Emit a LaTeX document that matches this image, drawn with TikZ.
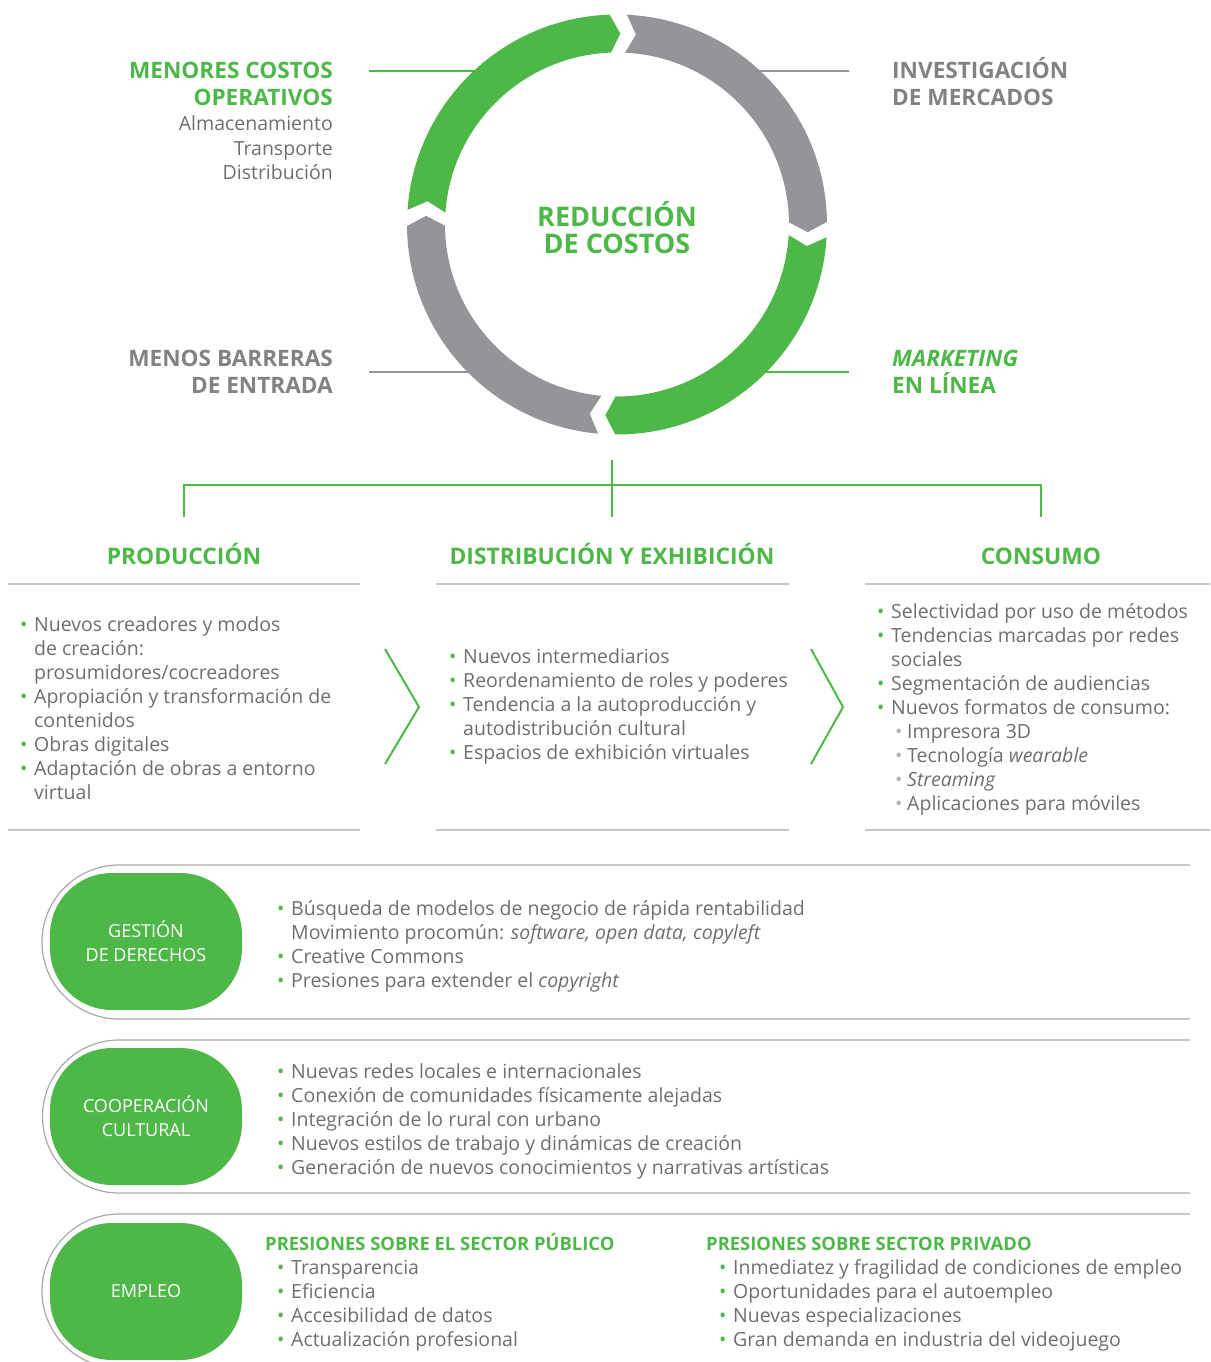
\documentclass[tikz,border=0pt]{standalone}
\usepackage{fontspec}
\setmainfont{Open Sans}
\usetikzlibrary{calc}
\definecolor{grn}{HTML}{4DB848}
\definecolor{segg}{HTML}{939598}
\definecolor{hdg}{HTML}{808285}
\definecolor{txtg}{HTML}{6D6E71}
\definecolor{lineg}{HTML}{C4C6C8}
\definecolor{bandg}{HTML}{A7A9AC}
\definecolor{subg}{HTML}{B0B2B4}
\newcommand\Bul{\makebox[14pt][l]{\textcolor{grn}{•}}}
\newcommand\Ind{\hspace*{14pt}}
\newcommand\Sbul{\makebox[12pt][l]{\textcolor{subg}{•}}}
\newcommand\ringseg[3]{%
  \fill[#3] (#1:210) arc[start angle=#1, end angle=#2, radius=210]
    -- ({#2-3}:191) -- (#2:172) arc[start angle=#2, end angle=#1, radius=172]
    -- ({#1-3}:191) -- cycle;}
\tikzset{
  body/.style={anchor=base west, inner sep=0pt, text=txtg, font=\fontsize{19.5}{24}\selectfont},
  hd/.style={inner sep=0pt, font=\fontsize{22.6}{27}\bfseries\selectfont},
  sechd/.style={anchor=base, inner sep=0pt, text=grn, font=\fontsize{22.8}{28}\bfseries\selectfont},
  pill/.style={fill=grn, rounded corners=62pt, minimum width=192pt, minimum height=137pt, inner sep=0pt, text=white, align=center, font=\fontsize{18}{24}\selectfont},
  secline/.style={lineg, line width=2pt},
  bandline/.style={bandg, line width=1.2pt},
  tree/.style={grn, line width=1.5pt},
  chev/.style={grn, line width=2pt},
}
\begin{document}
\begin{tikzpicture}[x=1pt, y=-1pt]
\useasboundingbox (0,0) rectangle (1210,1362);
\clip (0,0) rectangle (1210,1362);

% ---- lines from labels to the ring
\coordinate (la) at (369,71);  \coordinate (lb) at (480,71);
\coordinate (ra) at (755,71);  \coordinate (rb) at (849,71);
\coordinate (lc) at (369,372); \coordinate (ld) at (480,372);
\coordinate (rc) at (755,372); \coordinate (rd) at (849,372);
\draw[grn, line width=2pt] (la) -- (lb);
\draw[segg, line width=2pt] (ra) -- (rb);
\draw[segg, line width=2pt] (lc) -- (ld);
\draw[grn, line width=2pt] (rc) -- (rd);

% ---- ring
\begin{scope}[shift={(617,224.5)}, yscale=-1]
  \ringseg{176}{92}{grn}
  \ringseg{87.3}{0.7}{segg}
  \ringseg{-3.5}{-90.5}{grn}
  \ringseg{-95.2}{-179.6}{segg}
\end{scope}

\node[hd, anchor=base, text=grn] (c1) at (617,226) {\fontsize{27}{30}\selectfont REDUCCIÓN};
\node[hd, anchor=base, text=grn] (c2) at (617,253) {\fontsize{27}{30}\selectfont DE COSTOS};

% ---- corner labels
\node[hd, anchor=base east, text=grn] (m1) at (333,79) {MENORES COSTOS};
\node[hd, anchor=base east, text=grn] (m2) at (333,106) {OPERATIVOS};
\node[body, anchor=base east] (m3) at (333,131) {Almacenamiento};
\node[body, anchor=base east] (m4) at (333,155) {Transporte};
\node[body, anchor=base east] (m5) at (333,179) {Distribución};

\node[hd, anchor=base west, text=hdg] (i1) at (892,79) {INVESTIGACIÓN};
\node[hd, anchor=base west, text=hdg] (i2) at (892,106) {DE MERCADOS};

\node[hd, anchor=base east, text=hdg] (b1) at (333,366) {MENOS BARRERAS};
\node[hd, anchor=base east, text=hdg] (b2) at (333,393) {DE ENTRADA};

\node[hd, anchor=base west, text=grn] (k1) at (892,366) {\itshape MARKETING};
\node[hd, anchor=base west, text=grn] (k2) at (892,393) {EN LÍNEA};

% ---- tree
\coordinate (t0) at (612,460);
\coordinate (tm) at (612,485);
\coordinate (tl) at (184,485);
\coordinate (tr) at (1041,485);
\coordinate (dl) at (184,517);
\coordinate (dm) at (612,517);
\coordinate (dr) at (1041,517);
\draw[tree] (t0) -- (dm);
\draw[tree] (dl) -- (tl) -- (tr) -- (dr);

\node[sechd] (h1) at (184,564) {PRODUCCIÓN};
\node[sechd] (h2) at (612,564) {DISTRIBUCIÓN Y EXHIBICIÓN};
\node[sechd] (h3) at (1041,564) {CONSUMO};

\draw[secline] (8,584) -- (360,584);
\draw[secline] (436,584) -- (789,584);
\draw[secline] (865,584) -- (1210,584);
\draw[secline] (8,830) -- (360,830);
\draw[secline] (436,830) -- (789,830);
\draw[secline] (865,830) -- (1210,830);

\draw[chev] (385,649) -- (419,707) -- (385,764);
\draw[chev] (811,649) -- (843,707) -- (811,764);

% ---- column lists
\foreach \t [count=\i from 0] in {{\Bul Nuevos creadores y modos},{\Ind de creación:},{\Ind prosumidores/cocreadores},{\Bul Apropiación y transformación de},{\Ind contenidos},{\Bul Obras digitales},{\Bul Adaptación de obras a entorno},{\Ind virtual}}
  \node[body] (p\i) at (20,{631+24*\i}) {\t};

\foreach \t [count=\i from 0] in {{\Bul Nuevos intermediarios},{\Bul Reordenamiento de roles y poderes},{\Bul Tendencia a la autoproducción y},{\Ind autodistribución cultural},{\Bul Espacios de exhibición virtuales}}
  \node[body] (d\i) at (449,{663+24*\i}) {\t};

\foreach \t [count=\i from 0] in {{\Bul Selectividad por uso de métodos},{\Bul Tendencias marcadas por redes},{\Ind sociales},{\Bul Segmentación de audiencias},{\Bul Nuevos formatos de consumo:}}
  \node[body] (s\i) at (877,{618+24*\i}) {\t};
\foreach \t [count=\i from 0] in {{\Sbul Impresora 3D},{\Sbul Tecnología \textit{wearable}},{\Sbul \textit{Streaming}},{\Sbul Aplicaciones para móviles}}
  \node[body] (u\i) at (895,{738+24*\i}) {\t};

% ---- bands
\draw[bandline] (1190,865) -- (119,865) arc[start angle=-90, end angle=-270, radius=77] -- (1190,1019);
\draw[bandline] (1190,1040) -- (119,1040) arc[start angle=-90, end angle=-270, radius=76.5] -- (1190,1193);
\draw[bandline] (1190,1214) -- (119,1214) arc[start angle=-90, end angle=-270, radius=77] -- (1190,1368);

\node[pill] (g1) at (146,941.5) {GESTIÓN\\DE DERECHOS};
\node[pill] (g2) at (146,1116.5) {COOPERACIÓN\\CULTURAL};
\node[pill] (g3) at (146,1291.5) {EMPLEO};

\foreach \t [count=\i from 0] in {{\Bul Búsqueda de modelos de negocio de rápida rentabilidad},{\Ind Movimiento procomún: \textit{software, open data, copyleft}},{\Bul Creative Commons},{\Bul Presiones para extender el \textit{copyright}}}
  \node[body] (e\i) at (277,{915+24*\i}) {\t};

\foreach \t [count=\i from 0] in {{\Bul Nuevas redes locales e internacionales},{\Bul Conexión de comunidades físicamente alejadas},{\Bul Integración de lo rural con urbano},{\Bul Nuevos estilos de trabajo y dinámicas de creación},{\Bul Generación de nuevos conocimientos y narrativas artísticas}}
  \node[body] (f\i) at (277,{1078+24*\i}) {\t};

\node[hd, anchor=base west, text=grn, font=\fontsize{18.4}{24}\bfseries\selectfont] (q1) at (265,1250) {PRESIONES SOBRE EL SECTOR PÚBLICO};
\node[hd, anchor=base west, text=grn, font=\fontsize{18.4}{24}\bfseries\selectfont] (q2) at (706,1250) {PRESIONES SOBRE SECTOR PRIVADO};

\foreach \t [count=\i from 0] in {{\Bul Transparencia},{\Bul Eficiencia},{\Bul Accesibilidad de datos},{\Bul Actualización profesional}}
  \node[body] (v\i) at (277,{1274+24*\i}) {\t};
\foreach \t [count=\i from 0] in {{\Bul Inmediatez y fragilidad de condiciones de empleo},{\Bul Oportunidades para el autoempleo},{\Bul Nuevas especializaciones},{\Bul Gran demanda en industria del videojuego}}
  \node[body] (w\i) at (719,{1274+24*\i}) {\t};
\end{tikzpicture}
\end{document}
